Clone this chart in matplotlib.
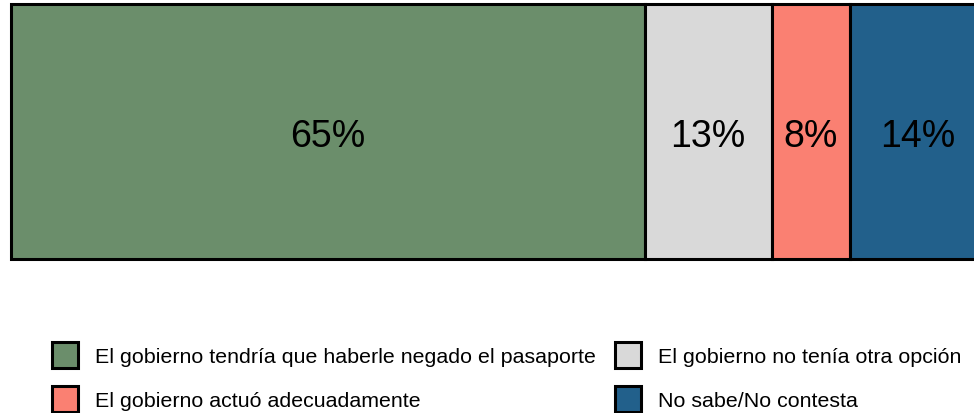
import matplotlib
matplotlib.use("Agg")
import matplotlib.pyplot as plt
from matplotlib.patches import Patch

categories = [
    "El gobierno tendría que haberle negado el pasaporte",
    "El gobierno no tenía otra opción",
    "El gobierno actuó adecuadamente",
    "No sabe/No contesta",
]
values = [65, 13, 8, 14]
colors = ["#6b8e6b", "#d9d9d9", "#fa8072", "#22608b"]

plt.rcParams['font.family'] = ['Liberation Sans', 'DejaVu Sans']

fig = plt.figure(figsize=(9.74, 4.14), dpi=100)
# the bar runs slightly past the right edge of the figure, as in the reference
ax = fig.add_axes([11/974, 1 - 260/414, 975/974, 255/414])

left = 0
for cat, v, c in zip(categories, values, colors):
    ax.barh(0, v, left=left, height=1, color=c, edgecolor="black",
            linewidth=2.2, clip_on=False)
    ax.annotate(f"{v}%", (left + v / 2, 0), xytext=(0, -3),
                textcoords="offset points", ha="center", va="center",
                fontsize=27, color="black")
    left += v

ax.set_xlim(0, sum(values))
ax.set_ylim(-0.5, 0.5)
ax.axis("off")

handles = [Patch(facecolor=c, edgecolor="black", linewidth=2.2) for c in colors]
order = [0, 2, 1, 3]
leg = fig.legend([handles[i] for i in order], [categories[i] for i in order],
                 ncol=2, loc="upper left", bbox_to_anchor=(52/974, 1 - 343/414),
                 frameon=False, fontsize=15.4, handlelength=1.215, handleheight=1.49,
                 handletextpad=0.8, columnspacing=0.9, labelspacing=0.84,
                 borderpad=0, borderaxespad=0)

fig.savefig("out.png", dpi=100)
